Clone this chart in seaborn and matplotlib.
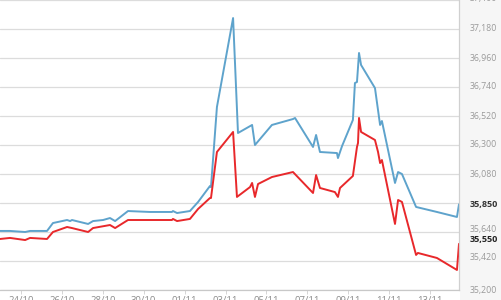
import matplotlib
matplotlib.use("Agg")
import matplotlib.pyplot as plt
import seaborn as sns
import pandas as pd
from matplotlib.patches import Rectangle

# ---- data ----
blue_days = [-1.03, -0.54, 0.20, 0.44, 1.27, 1.56, 2.25, 2.40, 2.49, 3.28, 3.52, 4.01,
             4.35, 4.60, 5.23, 6.31, 7.38, 7.43, 7.63, 8.26, 8.66, 9.24, 9.29, 9.58,
             10.37, 10.61, 11.30, 11.44, 12.27, 13.30, 13.40, 14.28, 14.43, 14.62,
             15.45, 15.50, 15.70, 16.23, 16.33, 16.43, 16.53, 16.63, 17.31, 17.56,
             17.65, 18.29, 18.44, 18.63, 19.32, 20.34, 21.32, 21.42]
blue_vals = [35648, 35648, 35640, 35648, 35648, 35708, 35731, 35723, 35731, 35701, 35723, 35731,
             35746, 35723, 35799, 35792, 35792, 35799, 35784, 35799, 35868, 35989, 35981, 36588,
             37263, 36391, 36452, 36300, 36452, 36497, 36505, 36285, 36376, 36247,
             36239, 36201, 36292, 36490, 36770, 36778, 36998, 36907, 36732, 36452,
             36482, 36012, 36095, 36080, 35830, 35792, 35754, 35850]

red_days = [-1.03, -0.54, 0.20, 0.44, 1.27, 1.56, 2.25, 2.49, 3.28, 3.52, 4.35, 4.60,
            5.23, 7.38, 7.43, 7.63, 8.26, 8.66, 9.24, 9.29, 9.58, 10.37, 10.56, 11.20,
            11.30, 11.44, 11.59, 12.27, 13.30, 14.28, 14.43, 14.62, 15.35, 15.50, 15.60,
            16.23, 16.43, 16.48, 16.53, 16.63, 17.31, 17.46, 17.56, 17.65, 18.29, 18.44,
            18.63, 19.32, 19.41, 20.34, 21.32, 21.42]
red_vals = [35587, 35595, 35579, 35595, 35587, 35640, 35678, 35670, 35640, 35670, 35693, 35670,
            35731, 35731, 35739, 35723, 35739, 35815, 35898, 35898, 36247, 36399, 35906, 35981,
            36012, 35906, 36004, 36057, 36095, 35936, 36072, 35974, 35943, 35906, 35974,
            36065, 36285, 36315, 36505, 36399, 36338, 36247, 36163, 36186, 35701, 35883,
            35868, 35466, 35481, 35443, 35352, 35550]

tick_days = [0, 2, 4, 6, 8, 10, 12, 14, 16, 18, 20]
tick_labels = ["24/10", "26/10", "28/10", "30/10", "01/11", "03/11",
               "05/11", "07/11", "09/11", "11/11", "13/11"]
y_grid = [35200, 35420, 35640, 35860, 36080, 36300, 36520, 36740, 36960, 37180, 37400]
blue_last_label = "35,850"
red_last_label = "35,550"

BLUE = "#5ea3cc"
RED = "#e8282b"

sns.set_theme(style="white")
plt.rcParams['font.family'] = ['Open Sans', 'DejaVu Sans']

fig = plt.figure(figsize=(5.01, 3.0), dpi=100)
fig.patch.set_facecolor("white")
# light grey panel behind right-hand labels
fig.patches.append(Rectangle((0.918, 0), 0.082, 1, transform=fig.transFigure,
                             facecolor="#f6f6f6", edgecolor="none", zorder=-10))
ax = fig.add_axes([0.0, 10 / 300, 459 / 501, 290 / 300])
ax.set_facecolor("white")

df_b = pd.DataFrame({"day": blue_days, "val": blue_vals})
df_r = pd.DataFrame({"day": red_days, "val": red_vals})
sns.lineplot(data=df_b, x="day", y="val", ax=ax, color=BLUE, lw=1.4, estimator=None, sort=False)
sns.lineplot(data=df_r, x="day", y="val", ax=ax, color=RED, lw=1.4, estimator=None, sort=False)

ax.set_xlim(blue_days[0], blue_days[-1])
ax.set_ylim(y_grid[0], y_grid[-1])
for g in y_grid:
    ax.axhline(g, color="#dcdcdc", lw=0.9, zorder=0)

ax.set_xlabel("")
ax.set_ylabel("")
ax.set_xticks(tick_days)
ax.set_xticklabels(tick_labels, fontsize=6.8, color="#8c8c8c")
ax.tick_params(axis="x", direction="out", length=3, width=0.6, color="#cfcfcf", pad=1.5, bottom=True)
ax.set_yticks([])

for s in ["left", "top"]:
    ax.spines[s].set_visible(False)
ax.spines["bottom"].set_color("#c8c8c8")
ax.spines["bottom"].set_linewidth(0.9)
ax.spines["right"].set_color("#d0d0d0")
ax.spines["right"].set_linewidth(0.9)

# right-hand value labels
trans = ax.get_yaxis_transform()
offsets = {35420: 2.5, 35640: 1.5, 37400: 1.0}
for g in y_grid:
    if g == 35860:
        continue
    ax.annotate(f"{g:,}", xy=(1.0, g), xycoords=trans, xytext=(8, offsets.get(g, 0)),
                textcoords="offset points", fontsize=6.3, color="#9a9a9a",
                va="center", ha="left", annotation_clip=False, zorder=5)
ax.annotate(blue_last_label, xy=(1.0, blue_vals[-1]), xycoords=trans, xytext=(8, 0),
            textcoords="offset points", fontsize=6.5, color="#333333", fontweight="bold",
            va="center", ha="left", annotation_clip=False, zorder=5)
ax.annotate(red_last_label, xy=(1.0, red_vals[-1]), xycoords=trans, xytext=(8, 3.5),
            textcoords="offset points", fontsize=6.5, color="#222222", fontweight="bold",
            va="center", ha="left", annotation_clip=False, zorder=5)

fig.savefig("out.png", dpi=100)
